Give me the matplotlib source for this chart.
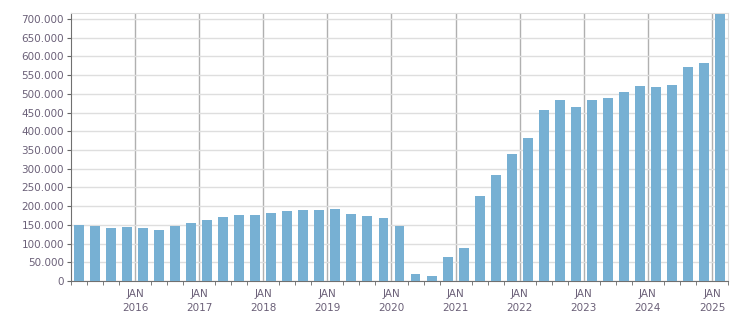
import numpy as np
import matplotlib
matplotlib.use("Agg")
import matplotlib.pyplot as plt
from matplotlib.ticker import FuncFormatter

# quarterly values, 2015 Q1 .. 2025 Q1
quarters = [f"{y}Q{q}" for y in range(2015, 2026) for q in range(1, 5)][:41]
values = [149000, 146000, 141000, 143500, 141000, 135000, 146000, 154000,
          162000, 170000, 175500, 175500, 181000, 186000, 189000, 189000,
          191500, 178000, 173000, 167500, 146000, 17800, 12500, 63000,
          87000, 226000, 282000, 338000, 381000, 456000, 483000, 464000,
          483000, 488000, 504500, 520500, 518000, 523000, 571500, 582000,
          714000]
year_labels = ["JAN\n2016", "JAN\n2017", "JAN\n2018", "JAN\n2019", "JAN\n2020",
               "JAN\n2021", "JAN\n2022", "JAN\n2023", "JAN\n2024", "JAN\n2025"]

bar_color = "#77b0d3"
text_color = "#6b6078"

fig = plt.figure(figsize=(7.51, 3.13), dpi=100)
ax = fig.add_axes([71/751, 32/313, (728-71)/751, (300-32)/313])

x = np.arange(len(values)) + 0.5
ax.bar(x, values, width=0.62, color=bar_color, zorder=3)

ax.set_xlim(0, len(values))
ax.set_ylim(0, 716000)

yt = np.arange(0, 700001, 50000)
ax.set_yticks(yt)
ax.yaxis.set_major_formatter(FuncFormatter(lambda v, p: f"{int(v):,}".replace(",", ".")))
ax.set_xticks(np.arange(4, 41, 4))
ax.set_xticklabels(year_labels, linespacing=1.45)
ax.set_xticks(np.arange(0, 42), minor=True)

ax.grid(axis="y", color="#dedede", linewidth=1, zorder=0)
ax.grid(axis="x", which="major", color="#b0b0b0", linewidth=1, zorder=0)

ax.tick_params(axis="both", which="both", direction="out", colors="#666666",
               labelcolor=text_color, labelsize=7.5)
ax.tick_params(axis="x", which="major", length=0, pad=6)
ax.tick_params(axis="x", which="minor", length=3)
ax.tick_params(axis="y", length=3, pad=2)

for s in ["left", "bottom"]:
    ax.spines[s].set_color("#707070")
for s in ["top", "right"]:
    ax.spines[s].set_color("#dcdcdc")

fig.savefig("out.png", dpi=100)
